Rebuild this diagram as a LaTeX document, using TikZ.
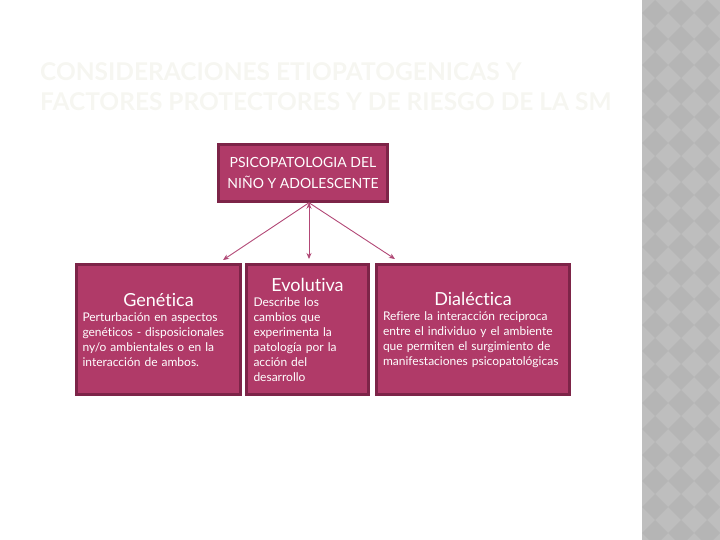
\documentclass[tikz,border=0pt]{standalone}
\usepackage{fontspec}
\setmainfont[Ligatures=NoCommon]{Lato}
\usepackage{tikz}
\usetikzlibrary{positioning, arrows.meta}
\definecolor{boxfill}{RGB}{176,58,104}
\definecolor{boxline}{RGB}{125,36,72}
\definecolor{arrowcol}{RGB}{178,72,118}
\definecolor{titlecol}{RGB}{246,246,241}
\definecolor{stripgray}{RGB}{190,190,190}
\definecolor{stripdark}{RGB}{181,181,181}
\newcommand{\boxhead}[1]{\hbox to\linewidth{\hss\fontsize{18}{22}\selectfont #1\hss}\par}
\tikzset{
  card/.style={draw=boxline, fill=boxfill, line width=2.5pt, text=white,
    inner sep=0pt, align=left, font=\fontsize{12}{15}\selectfont},
  link/.style={draw=arrowcol, line width=0.9pt, -{Stealth[length=6pt,width=5pt]}}
}

\begin{document}
\begin{tikzpicture}[x=1pt,y=-1pt]
    \useasboundingbox (0,0) rectangle (720,540);
    % grey strip on the right
    \fill[stripgray] (642,0) rectangle (720,540);
    \begin{scope}
      \clip (642,0) rectangle (720,540);
      \foreach \i in {0,...,3}
        \foreach \j in {0,...,21}
          \fill[stripdark] (655+26*\i,26*\j) -- ++(13,13) -- ++(-13,13) -- ++(-13,-13) -- cycle;
    \end{scope}

    % title
    \node[anchor=north west, align=left, text=titlecol, inner sep=0pt,
      font=\fontsize{24.5}{30}\selectfont\bfseries] (title) at (40,62)
      {CONSIDERACIONES ETIOPATOGENICAS Y\\FACTORES PROTECTORES Y DE RIESGO DE LA SM};

    \node[card, minimum width=169pt, minimum height=57pt, align=center,
      font=\fontsize{14}{21}\selectfont] (root) at (303,173)
      {PSICOPATOLOGIA DEL\\NIÑO Y ADOLESCENTE};

    \node[card, minimum width=164pt, minimum height=130pt, text width=152pt] (gen) at (158.5,329.5)
      {\boxhead{Genética}Perturbación en aspectos\\genéticos - disposicionales\\ny/o ambientales o en la\\interacción de ambos.};
    \node[card, minimum width=122pt, minimum height=130pt, text width=108pt] (evo) at (307.5,329.5)
      {\boxhead{Evolutiva}Describe los\\cambios que\\experimenta la\\patología por la\\acción del\\desarrollo};
    \node[card, minimum width=193pt, minimum height=130pt, text width=180pt] (dia) at (473,329.5)
      {\boxhead{Dialéctica}Refiere la interacción reciproca\\entre el individuo y el ambiente\\que permiten el surgimiento de\\manifestaciones psicopatológicas};

    \coordinate (hub) at ([xshift=6pt]root.south);
    \coordinate (gtip) at (223,260);
    \coordinate (etip) at (309,259);
    \coordinate (dtip) at (395,259);
    \path[link]
    (hub) edge (gtip)
          edge (etip)
          edge (dtip);
\end{tikzpicture}
\end{document}
